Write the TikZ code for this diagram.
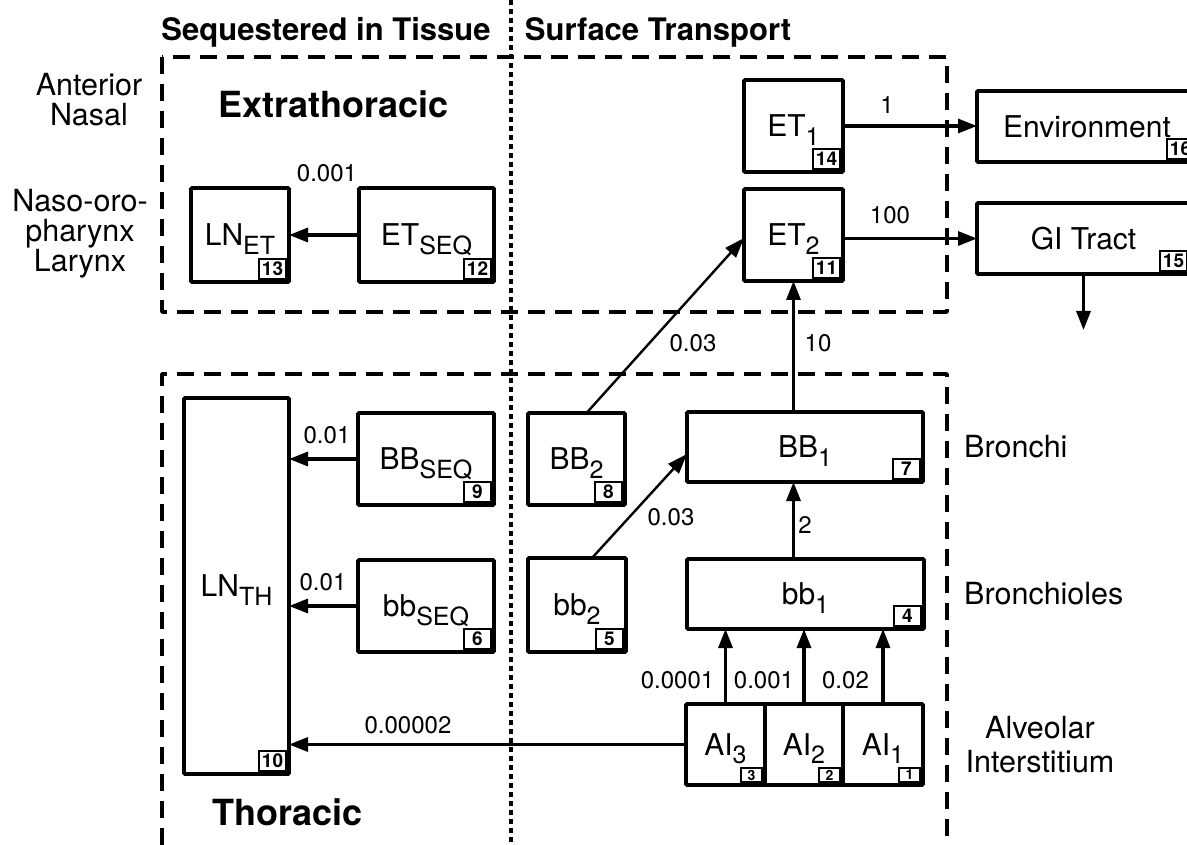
\documentclass[tikz,border=0pt]{standalone}
\usepackage{fontspec}
\setmainfont{TeX Gyre Heros}
\usetikzlibrary{arrows.meta,positioning}

\newcommand{\lowtxt}[1]{\raisebox{-0.27em}{\fontsize{25}{25}\selectfont #1}}

\begin{document}
\begin{tikzpicture}[
  x=1pt, y=-1pt,
  node distance=40pt,
  comp/.style={rectangle, draw=black, line width=3.6pt, rounded corners=1pt,
               inner sep=0pt, outer sep=0pt, align=center, text depth=0pt,
               font=\fontsize{30}{32}\selectfont},
  idx/.style={rectangle, draw=black, line width=1.8pt, fill=white,
              minimum width=27pt, minimum height=20pt, inner sep=0pt, outer sep=0pt,
              font=\fontsize{19}{19}\selectfont\bfseries},
  idxs/.style={idx, minimum width=21pt, minimum height=14pt,
               font=\fontsize{14}{14}\selectfont\bfseries},
  region/.style={draw=black, line width=3.5pt, line join=round,
                 dash pattern=on 17pt off 10pt},
  divide/.style={draw=black, line width=3.2pt, dash pattern=on 5pt off 4pt},
  zone/.style={align=center, inner sep=0pt, font=\fontsize{30.5}{30}\selectfont},
  head/.style={inner sep=0pt, font=\fontsize{31}{33}\selectfont\bfseries},
  rate/.style={inner sep=0pt, font=\fontsize{24}{26}\selectfont},
  arr/.style={-{Triangle[length=19pt, width=14pt]}, line width=3.2pt},
  thinarr/.style={-{Triangle[length=20pt, width=14pt]}, line width=2.4pt}
]
\useasboundingbox (0,0) rectangle (1187,845);
\clip (0,0) rectangle (1187,845);

\draw[region] (162,57) rectangle (947,312);
\draw[region] (162,845) -- (162,374) -- (947,374) -- (947,845);
\draw[divide] (511,0) -- (511,845);

\node[head] (seq) at (326,32) {Sequestered in Tissue};
\node[head] (surf) at (658,32) {Surface Transport};
\node[head, font=\fontsize{36}{38}\selectfont\bfseries] (extra) at (333.5,104) {Extrathoracic};
\node[head, font=\fontsize{36}{38}\selectfont\bfseries] (thor) at (287.5,812) {Thoracic};

\node[zone] (anterior) at (89,100) {Anterior\\Nasal};
\node[zone] (naso) at (80,234) {Naso-oro-\\pharynx\\Larynx};

\node[comp, minimum width=98pt, minimum height=94pt] (lnet) at (240,235) {LN\lowtxt{ET}};
\node[comp, minimum width=135pt, minimum height=94pt] (etseq) at (426.5,235) {ET\lowtxt{SEQ}};
\node[comp, minimum width=99pt, minimum height=92pt] (etone) at (793.5,126) {ET\lowtxt{1}};
\node[comp, minimum width=99pt, minimum height=92pt] (ettwo) at (793.5,235) {ET\lowtxt{2}};
\node[comp, minimum width=220pt, minimum height=71pt] (env) at (1087,126.5) {Environment};
\node[comp, minimum width=213pt, minimum height=71pt] (gi) at (1083.5,238.5) {GI Tract};
\coordinate (gisink) at (1083.5,330);

\node[comp, minimum width=105pt, minimum height=376pt] (lnth) at (236.5,586) {LN\lowtxt{TH}};
\node[comp, minimum width=136pt, minimum height=92pt] (BBseq) at (426,459) {BB\lowtxt{SEQ}};
\node[comp, minimum width=136pt, minimum height=92pt] (bbseq) at (426,606) {bb\lowtxt{SEQ}};
\node[comp, minimum width=97pt, minimum height=92pt] (BBtwo) at (576.5,459) {BB\lowtxt{2}};
\node[comp, minimum width=98pt, minimum height=94pt] (bbtwo) at (577,605) {bb\lowtxt{2}};
\node[comp, minimum width=236pt, minimum height=70pt] (BBone) at (805,447) {BB\lowtxt{1}};
\node[comp, minimum width=237pt, minimum height=70pt] (bbone) at (805.5,594) {bb\lowtxt{1}};
\node[comp, minimum width=79pt, minimum height=81pt] (aithree) at (725.5,744.5) {AI\lowtxt{3}};
\node[comp, minimum width=78pt, minimum height=81pt, right=0pt of aithree] (aitwo) {AI\lowtxt{2}};
\node[comp, minimum width=80pt, minimum height=81pt, right=0pt of aitwo] (aione) {AI\lowtxt{1}};

\foreach \c/\k in {lnet/13, etseq/12, etone/14, ettwo/11, env/16, gi/15, lnth/10,
                   BBseq/9, bbseq/6, BBtwo/8, bbtwo/5, BBone/7, bbone/4}
  \node[idx, anchor=south east] (idx\k) at ([shift={(-3,-3)}]\c.south east) {\k};
\foreach \c/\k in {aithree/3, aitwo/2, aione/1}
  \node[idxs, anchor=south east] (idx\k) at ([shift={(-3,-3)}]\c.south east) {\k};

\node[zone, right=41pt of BBone] (bronchi) {Bronchi};
\node[zone, right=40pt of bbone] (bronchioles) {Bronchioles};
\node[zone] (alveolar) at (1040,745) {Alveolar\\[4pt]Interstitium};

\draw[arr] (etseq) -- (lnet);
\draw[arr] (etone.east) -- (etone.east -| env.west);
\draw[arr] (ettwo.east |- gi) -- (gi.west);
\draw[arr] (gi.south) -- (gisink);
\draw[arr] (BBone.north -| ettwo.south) -- (ettwo.south);
\draw[arr] (bbone.north -| ettwo.south) -- (BBone.south -| ettwo.south);
\draw[arr] (aithree.north) -- (aithree.north |- bbone.south);
\draw[arr] (aitwo.north) -- (aitwo.north |- bbone.south);
\draw[arr] (aione.north) -- (aione.north |- bbone.south);
\draw[arr] (BBseq.west) -- (BBseq.west -| lnth.east);
\draw[arr] (bbseq.west) -- (bbseq.west -| lnth.east);
\draw[arr] (aithree.west) -- (aithree.west -| lnth.east);
\draw[thinarr] ([xshift=15pt]bbtwo.north) -- ([yshift=-7pt]BBone.west);
\draw[thinarr] ([xshift=10pt]BBtwo.north) -- ([yshift=-3pt]ettwo.west);

\node[rate] (r1) at (327,173) {0.001};
\node[rate] (r2) at (887,105) {1};
\node[rate] (r3) at (890,215) {100};
\node[rate] (r4) at (693,343) {0.03};
\node[rate] (r5) at (818,343) {10};
\node[rate] (r6) at (327,435) {0.01};
\node[rate] (r7) at (323,582) {0.01};
\node[rate] (r8) at (671,517) {0.03};
\node[rate] (r9) at (805,525) {2};
\node[rate] (r10) at (677.5,680) {0.0001};
\node[rate] (r11) at (764,680) {0.001};
\node[rate] (r12) at (845.5,680) {0.02};
\node[rate] (r13) at (408,725) {0.00002};
\end{tikzpicture}
\end{document}
